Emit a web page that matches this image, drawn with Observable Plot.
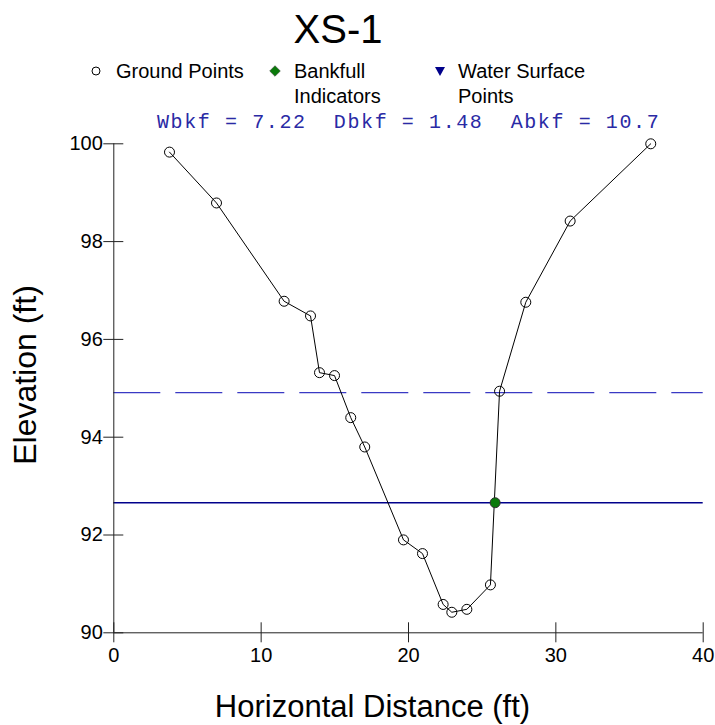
<!DOCTYPE html>
<html><head><meta charset="utf-8">
<script src="https://cdn.jsdelivr.net/npm/d3@7"></script>
<script src="https://cdn.jsdelivr.net/npm/@observablehq/plot@0.6"></script>
<style>
html,body{margin:0;padding:0;background:#fff;}
#chart{width:715px;height:725px;}
</style></head><body><div id="chart"></div>
<script>
// ---- data ----
const groundX = [3.78, 6.97, 11.56, 13.35, 13.96, 14.98, 16.08, 17.03, 19.66, 20.95, 22.35, 22.94, 23.96, 25.56, 26.18, 27.96, 30.97, 36.44];
const groundY = [99.83, 98.79, 96.78, 96.48, 95.32, 95.26, 94.40, 93.80, 91.90, 91.62, 90.58, 90.42, 90.48, 90.98, 94.94, 96.76, 98.42, 100.0];
const bankfullX = [25.88];
const bankfullY = [92.66];
const bankfullElev = [92.66];
const floodproneElev = [94.91];
const xTicks = [0, 10, 20, 30, 40];
const yTicks = [90, 92, 94, 96, 98, 100];
const titleText = "XS-1";
const legendGround = ["Ground Points"];
const legendBankfull = ["Bankfull", "Indicators"];
const legendWater = ["Water Surface", "Points"];
const statsText = "Wbkf = 7.22  Dbkf = 1.48  Abkf = 10.7";
const xLabel = "Horizontal Distance (ft)";
const yLabel = "Elevation (ft)";

const ground = groundX.map((x, i) => ({x, y: groundY[i]}));
const bkf = bankfullX.map((x, i) => ({x, y: bankfullY[i]}));
const axisColor = "#222";
const sans = "Arial, 'Liberation Sans', sans-serif";

const plot = Plot.plot({
  width: 715, height: 725,
  marginLeft: 113.3, marginRight: 12.3, marginTop: 143.3, marginBottom: 92.7,
  style: {fontFamily: sans, fontSize: "20px", color: "#000", background: "#fff"},
  x: {domain: [0, 40]},
  y: {domain: [90, 100]},
  marks: [
    Plot.ruleY(floodproneElev, {stroke: "#3a3ac4", strokeWidth: 1.3, strokeDasharray: "47,15"}),
    Plot.ruleY(bankfullElev, {stroke: "#00008b", strokeWidth: 1.5}),
    Plot.line(ground, {x: "x", y: "y", stroke: "#000", strokeWidth: 1}),
    Plot.dot(ground, {x: "x", y: "y", r: 5, stroke: "#000", fill: "none", strokeWidth: 1}),
    Plot.dot(bkf, {x: "x", y: "y", r: 5, fill: "#0a7a0a", stroke: "#333", strokeWidth: 1}),
    Plot.ruleX([0], {stroke: axisColor}),
    Plot.ruleY([90], {stroke: axisColor}),
    Plot.axisX(xTicks, {tickSize: 20, dy: -10, tickPadding: 5, label: null, stroke: axisColor}),
    Plot.axisY(yTicks, {tickSize: 20, dx: 10, tickPadding: 1, label: null, stroke: axisColor})
  ]
});
document.getElementById("chart").appendChild(plot);

// ---- title, legend, annotation, axis labels ----
const svg = d3.select(plot);
const g = svg.append("g").style("font-family", sans).attr("fill", "#000").attr("text-anchor", "start");
g.append("text").attr("x", 338).attr("y", 43).attr("text-anchor", "middle")
  .style("font-size", "40px").text(titleText);

const lg = g.append("g").style("font-size", "20px");
lg.append("circle").attr("cx", 96).attr("cy", 71).attr("r", 4)
  .attr("fill", "none").attr("stroke", "#000").attr("stroke-width", 1);
legendGround.forEach((t, i) => lg.append("text").attr("x", 116).attr("y", 78 + 25 * i).text(t));
lg.append("path").attr("d", d3.symbol(d3.symbolDiamond2, 72)()).attr("transform", "translate(275,71)")
  .attr("fill", "#0a7a0a").attr("stroke", "#333").attr("stroke-width", 0.5);
legendBankfull.forEach((t, i) => lg.append("text").attr("x", 294).attr("y", 78 + 25 * i).text(t));
lg.append("path").attr("d", "M-5,-4L5,-4L0,5Z").attr("transform", "translate(440,71)")
  .attr("fill", "#00008b");
legendWater.forEach((t, i) => lg.append("text").attr("x", 458).attr("y", 78 + 25 * i).text(t));

g.append("text").attr("x", 157).attr("y", 128)
  .style("font-family", "'Liberation Mono', 'Courier New', monospace")
  .style("font-size", "20px").style("letter-spacing", "1.6px").style("white-space", "pre")
  .attr("fill", "#2a2aa5").text(statsText);

g.append("text").attr("x", 372.5).attr("y", 717).attr("text-anchor", "middle")
  .style("font-size", "31px").text(xLabel);
g.append("text").attr("transform", "translate(36,375) rotate(-90)").attr("text-anchor", "middle")
  .style("font-size", "32px").text(yLabel);
</script></body></html>
